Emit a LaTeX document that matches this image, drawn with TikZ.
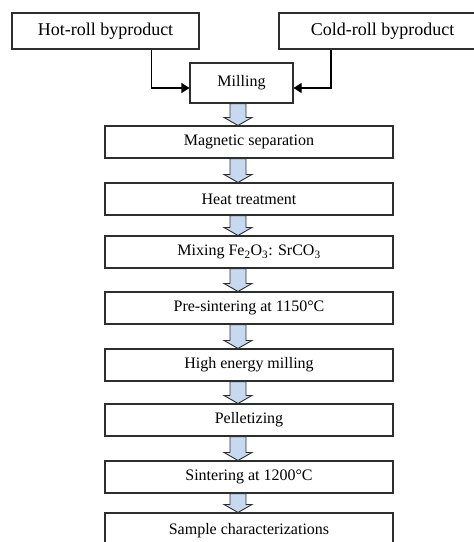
\documentclass[tikz,border=0pt]{standalone}
\usepackage{fontspec}
\setmainfont{Liberation Serif}
\usetikzlibrary{arrows.meta,calc}
\definecolor{arrowfill}{HTML}{C6D9F1}
\definecolor{boxline}{HTML}{2E2E2E}
\tikzset{
  srcbox/.style={draw=boxline, line width=1.1pt, minimum width=187pt, minimum height=36pt,
    inner sep=0pt, font=\fontsize{18}{21}\selectfont},
  millbox/.style={draw=boxline, line width=1.1pt, minimum width=103pt, minimum height=40pt,
    inner sep=0pt, font=\fontsize{16}{19}\selectfont},
  stepbox/.style={draw=boxline, line width=1.1pt, minimum width=288pt, minimum height=32pt,
    inner sep=0pt, font=\fontsize{16}{19}\selectfont},
  conn/.style={draw=black, line width=1.1pt, -{Triangle[length=8pt,width=10pt]}},
  barrow/.style={draw=boxline, line width=0.9pt, fill=arrowfill, line join=miter}
}
\newcommand\flowarrow[2]{%
  \draw[barrow] let \p0=(axis), \p1=(#1.south), \p2=(#2.north) in
    ({\x0-8pt},\y1) -- ({\x0+8pt},\y1) -- ({\x0+8pt},{\y2+8pt}) -- ({\x0+14pt},{\y2+8pt})
    -- (\x0,\y2) -- ({\x0-14pt},{\y2+8pt}) -- ({\x0-8pt},{\y2+8pt}) -- cycle;}
\begin{document}
\begin{tikzpicture}[x=1pt,y=-1pt]
\useasboundingbox (0,0) rectangle (474,542);
\clip (0,0) rectangle (474,542);
\coordinate (axis) at (238,0);
\node[srcbox] (hot) at (105.5,31) {Hot-roll byproduct};
\node[srcbox, minimum width=207pt] (cold) at (382.5,31) {Cold-roll byproduct};
\node[millbox] (mill) at (241.5,83) {Milling};
\node[stepbox] (mag) at (249,142) {Magnetic separation};
\node[stepbox] (heat) at (249,199) {Heat treatment};
\node[stepbox] (mix) at (249,252) {Mixing Fe\textsubscript{2}O\textsubscript{3}: SrCO\textsubscript{3}};
\node[stepbox] (pre) at (249,308) {Pre-sintering at 1150°C};
\node[stepbox] (hem) at (249,365) {High energy milling};
\node[stepbox] (pel) at (249,420) {Pelletizing};
\node[stepbox] (sin) at (249,477) {Sintering at 1200°C};
\node[stepbox, minimum height=36pt] (sam) at (249,531) {\raisebox{2pt}{Sample characterizations}};
\coordinate (hj) at (151.7,88);
\coordinate (cj) at (331,88);
\draw[conn] (hot.south -| hj) -- (hj) -- (hj -| mill.west);
\draw[conn] (cold.south -| cj) -- (cj) -- (cj -| mill.east);
\flowarrow{mill}{mag}
\flowarrow{mag}{heat}
\flowarrow{heat}{mix}
\flowarrow{mix}{pre}
\flowarrow{pre}{hem}
\flowarrow{hem}{pel}
\flowarrow{pel}{sin}
\flowarrow{sin}{sam}
\end{tikzpicture}
\end{document}
